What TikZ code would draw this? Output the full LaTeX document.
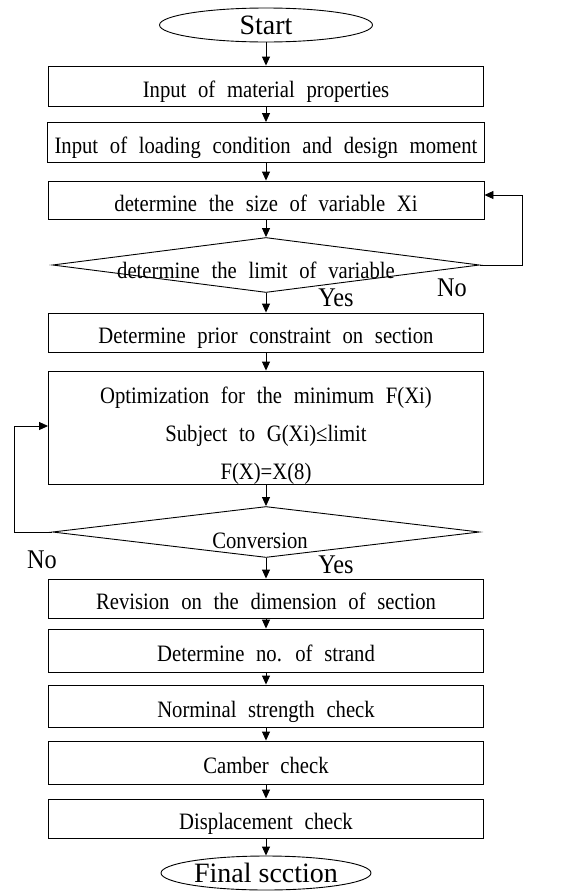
\documentclass[tikz,border=0pt]{standalone}
\usepackage{fontspec}
\setmainfont{Liberation Serif}
\usepackage{tikz}
\usetikzlibrary{shapes.geometric,calc,positioning,arrows.meta}
\newcommand{\widefont}{\fontsize{23.5}{38}\selectfont\addfontfeature{FakeStretch=0.88}\spaceskip=11.7pt plus 2pt minus 1pt\relax}
\newcommand{\ansfont}{\fontsize{27}{28}\selectfont\addfontfeature{FakeStretch=0.9}}

\begin{document}
\begin{tikzpicture}[>={Triangle[length=9pt,width=8pt]}, x=1pt, y=-1pt, line width=0.9pt,
	stepbox/.style={rectangle, draw, minimum width=435pt, minimum height=40pt, inner sep=0pt, text height=22pt, text depth=0pt, font=\widefont},
	ends/.style={ellipse, draw, inner sep=0pt, minimum height=34pt, font=\fontsize{28}{30}\selectfont},
	decision/.style={diamond, draw, inner sep=0pt, minimum width=427pt, minimum height=55pt},
	txt/.style={inner sep=0pt, font=\widefont},
	answer/.style={inner sep=0pt, font=\ansfont}]
	\useasboundingbox (0,0) rectangle (574,892);
	\node (start) [ends, minimum width=213pt] at (266,25) {Start};
	\node (mat) [stepbox] at (266,86) {Input of material properties};
	\node (load) [stepbox, minimum width=437pt] at (266,142.5) {Input of loading condition and design moment};
	\node (size) [stepbox, minimum width=436pt, minimum height=38pt] at (266,200) {determine the size of variable Xi};
	\node (lim) [decision] at (266,265) {};
	\node (limtxt) [txt] at (256,270) {determine the limit of variable};
	\node (prior) [stepbox, minimum height=39pt] at (266,332.5) {Determine prior constraint on section};
	\node (opt) [stepbox, minimum height=113pt] at (266,427.5) {};
	\node (opttxt) [txt, align=center] at (266,436) {Optimization for the minimum F(Xi)\\Subject to G(Xi)≤limit\\F(X)=X(8)};
	\node (conv) [decision, minimum height=51pt] at (266,532) {};
	\node (convtxt) [txt] at (260,541) {Conversion};
	\node (rev) [stepbox, minimum height=39pt] at (266,598.5) {Revision on the dimension of section};
	\node (strand) [stepbox, minimum height=43pt] at (266,650.5) {Determine no. of strand};
	\node (nom) [stepbox, minimum height=42pt] at (266,706) {Norminal strength check};
	\node (camb) [stepbox, minimum height=43pt] at (266,762.5) {Camber check};
	\node (disp) [stepbox, minimum height=39pt] at (266,818.5) {Displacement check};
	\node (final) [ends, minimum width=210pt] at (266,873) {Final scction};
	% yes / no
	\node (no1) [answer] at (452,288) {No};
	\node (yes1) [answer] at (336,298) {Yes};
	\node (no2) [answer] at (42,560) {No};
	\node (yes2) [answer] at (336,565) {Yes};
	% main line
	\foreach \a/\b in {start/mat,mat/load,load/size,size/lim,lim/prior,prior/opt,opt/conv,conv/rev,rev/strand,strand/nom,nom/camb,camb/disp,disp/final}
		\draw [->] (\a) -- (\b);
	% loops
	\draw [->] (lim.east) -- ++(42,0) |- ([yshift=5pt]size.east);
	\draw [->] (conv.west) -- ++(-38,0) |- ([yshift=1.5pt]opt.west);
\end{tikzpicture}
\end{document}
